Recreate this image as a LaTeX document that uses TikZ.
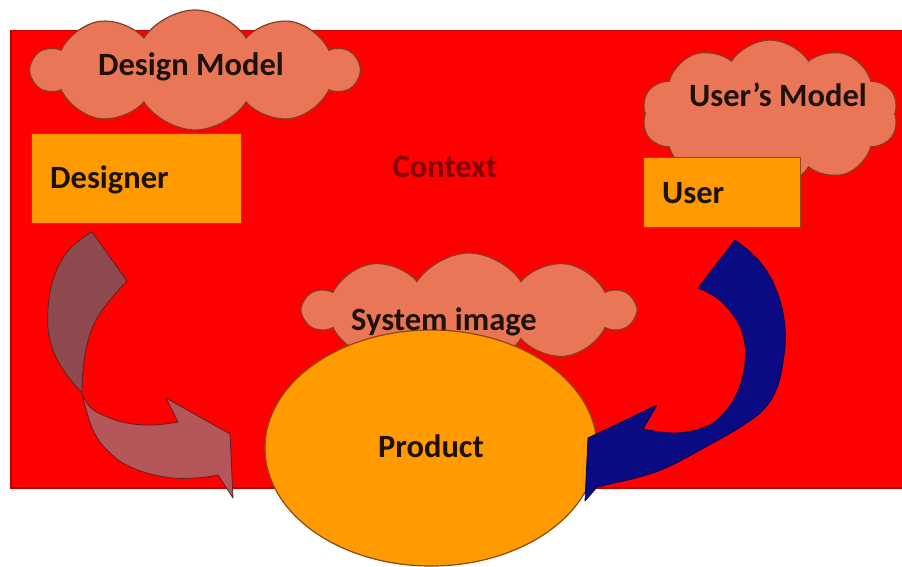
\documentclass[tikz,border=0pt]{standalone}
\usepackage{fontspec}
\setmainfont{Carlito}
\usetikzlibrary{shapes.symbols,shapes.geometric}

\definecolor{ctxred}{HTML}{FF0000}
\definecolor{ctxedge}{HTML}{C00000}
\definecolor{ctxtext}{HTML}{820000}
\definecolor{boxfill}{HTML}{FF9A00}
\definecolor{boxedge}{HTML}{8A4A10}
\definecolor{cloudfill}{HTML}{EA7658}
\definecolor{cloudedge}{HTML}{8B3A22}
\definecolor{ink}{HTML}{1E1208}
\definecolor{navyfill}{HTML}{0A0A82}
\definecolor{navyedge}{HTML}{05054A}
\definecolor{browndark}{HTML}{8E4A4E}
\definecolor{brownlight}{HTML}{B5565A}
\definecolor{brownedge}{HTML}{5E2020}

\begin{document}
\begin{tikzpicture}[x=1pt,y=-1pt,
  caption/.style={font=\bfseries\fontsize{32.5}{34}\selectfont, text=ink, inner sep=0pt},
  thought/.style={cloud, cloud puffs=10, cloud puff arc=115, cloud ignores aspect,
    fill=cloudfill, draw=cloudedge, line width=1.2pt, inner sep=0pt},
  rolebox/.style={rectangle, fill=boxfill, draw=boxedge, line width=1.2pt,
    inner sep=0pt, anchor=north west},
  twist/.style={draw=brownedge, line width=0.8pt, line join=round},
]
\useasboundingbox (0,0) rectangle (902,567);

% context background
\node[rectangle, anchor=north west, fill=ctxred, draw=ctxedge, line width=1.5pt,
  minimum width=900, minimum height=457, inner sep=0pt] (context) at (10,30) {};

% designer side
\node[thought, minimum width=326, minimum height=120] (designcloud) at (195,70) {};
\node[rolebox, minimum width=210, minimum height=90] (designer) at (31,133) {};

% user side
\node[thought, minimum width=256, minimum height=148] (usercloud) at (770,114) {};
\node[rolebox, minimum width=157, minimum height=70] (user) at (643,157) {};

% system image and product
\node[thought, minimum width=330, minimum height=114] (syscloud) at (469,310) {};
\node[ellipse, fill=boxfill, draw=boxedge, line width=1.2pt, inner sep=0pt,
  minimum width=332, minimum height=236] (product) at (431,448) {};

% designer -> product curved arrow (twisted ribbon: back face, then front face)
\coordinate (twistpt) at (82,393);
\filldraw[twist, fill=browndark] (twistpt)
  -- plot[smooth, tension=0.7] coordinates {(82,393) (62,368) (50,340) (48,310) (53,280) (65,255) (80,240) (92,232)}
  -- (127,281)
  -- plot[smooth, tension=0.7] coordinates {(127,281) (110,300) (95,322) (87,345) (83,370) (82,393)}
  -- cycle;
\filldraw[twist, fill=brownlight] (twistpt)
  -- plot[smooth, tension=0.7] coordinates {(82,393) (90,407) (105,416) (127,423) (153,425) (178,422)}
  -- (166,398) -- (230,434) -- (233,498) -- (218,475)
  -- plot[smooth, tension=0.7] coordinates {(218,475) (195,478) (165,477) (133,468) (110,453) (93,430) (82,393)}
  -- cycle;

% user -> product curved arrow
\filldraw[fill=navyfill, draw=navyedge, line width=0.8pt, line join=round] (735,240)
  -- plot[smooth, tension=0.7] coordinates {(735,240) (760,262) (777,292) (785,328) (783,362) (776,390) (763,410) (745,424) (727,435) (700,450) (670,466) (643,476) (610,484) (597,487)}
  -- (585,501) -- (588,438) -- (657,405) -- (643,429)
  -- plot[smooth, tension=0.7] coordinates {(643,429) (675,433) (705,427) (722,415) (737,393) (745,363) (743,335) (733,315) (717,298) (698,288)}
  -- cycle;

% texts
\node[caption, anchor=base] (designmodel) at (191,76) {Design Model};
\node[caption, anchor=base west] (designerlabel) at (50,188) {Designer};
\node[caption, anchor=base, text=ctxtext] (contextlabel) at (445,177) {Context};
\node[caption, anchor=base] (usermodel) at (778,107) {User’s Model};
\node[caption, anchor=base west] (userlabel) at (662,203) {User};
\node[caption, anchor=base] (sysimage) at (444,330) {System image};
\node[caption, anchor=base] (productlabel) at (431,457) {Product};
\end{tikzpicture}
\end{document}
